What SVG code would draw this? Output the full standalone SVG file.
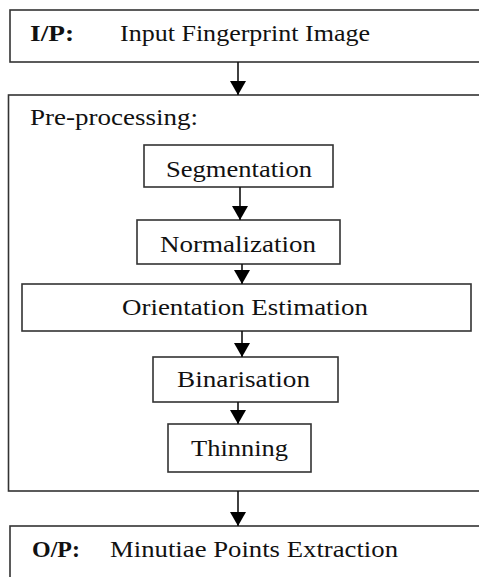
<svg xmlns="http://www.w3.org/2000/svg" width="479" height="577" viewBox="0 0 479 577">
<defs>
<style>
.box{fill:#fff;stroke:#333;stroke-width:1.6}
.t{font-family:"Liberation Serif","Times New Roman",serif;font-size:22.5px;fill:#111}
.b{font-weight:bold}
.c{stroke:#111;stroke-width:1.6;fill:none}
</style>
<marker id="ah" markerUnits="userSpaceOnUse" viewBox="0 0 14 16" refX="14" refY="8" markerWidth="14" markerHeight="16" orient="auto">
<path d="M0,0 L14,8 L0,16 z" fill="#000"/>
</marker>
</defs>
<rect width="479" height="577" fill="#fff"/>
<g id="input">
<rect class="box" x="10" y="10" width="480" height="52"/>
<text class="t b" x="30" y="41" textLength="44" lengthAdjust="spacingAndGlyphs">I/P:</text>
<text class="t" x="120" y="41" textLength="250" lengthAdjust="spacingAndGlyphs">Input Fingerprint Image</text>
</g>
<g id="preprocessing">
<rect class="box" x="8.5" y="95" width="480" height="396"/>
<text class="t" x="30" y="125" textLength="168" lengthAdjust="spacingAndGlyphs">Pre-processing:</text>
</g>
<g id="segmentation">
<rect class="box" x="144" y="145" width="189" height="42"/>
<text class="t" x="166" y="177" textLength="146" lengthAdjust="spacingAndGlyphs">Segmentation</text>
</g>
<g id="normalization">
<rect class="box" x="137" y="220" width="203" height="44"/>
<text class="t" x="160" y="252" textLength="156" lengthAdjust="spacingAndGlyphs">Normalization</text>
</g>
<g id="orientation">
<rect class="box" x="22" y="284" width="449" height="47"/>
<text class="t" x="122" y="315" textLength="246" lengthAdjust="spacingAndGlyphs">Orientation Estimation</text>
</g>
<g id="binarisation">
<rect class="box" x="153" y="357" width="185" height="45"/>
<text class="t" x="177" y="387" textLength="133" lengthAdjust="spacingAndGlyphs">Binarisation</text>
</g>
<g id="thinning">
<rect class="box" x="168" y="424" width="143" height="48"/>
<text class="t" x="191" y="456" textLength="97" lengthAdjust="spacingAndGlyphs">Thinning</text>
</g>
<g id="output">
<rect class="box" x="10" y="526" width="480" height="70"/>
<text class="t b" x="32" y="557" textLength="48" lengthAdjust="spacingAndGlyphs">O/P:</text>
<text class="t" x="110" y="557" textLength="288" lengthAdjust="spacingAndGlyphs">Minutiae Points Extraction</text>
</g>
<g id="connectors">
<line class="c" x1="238" y1="62" x2="238" y2="95" marker-end="url(#ah)"/>
<line class="c" x1="240" y1="187" x2="240" y2="220" marker-end="url(#ah)"/>
<line class="c" x1="242" y1="264" x2="242" y2="284" marker-end="url(#ah)"/>
<line class="c" x1="242" y1="331" x2="242" y2="357" marker-end="url(#ah)"/>
<line class="c" x1="238" y1="402" x2="238" y2="424" marker-end="url(#ah)"/>
<line class="c" x1="238" y1="491" x2="238" y2="526" marker-end="url(#ah)"/>
</g>
</svg>
